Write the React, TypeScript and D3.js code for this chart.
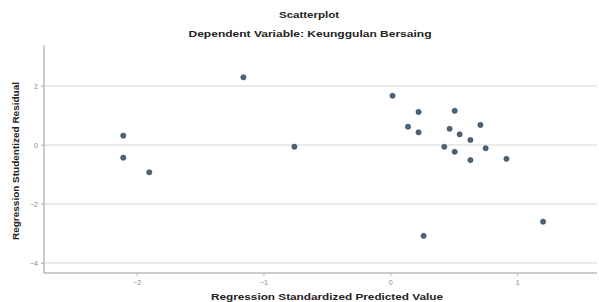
import React, { useEffect, useRef } from 'react';
import * as d3 from 'd3';

// standardized predicted value (x) vs studentized residual (y)
const predicted = [
  -2.105, -2.105, -1.9, -1.158, -0.756,
  0.018, 0.223, 0.508, 0.14, 0.223, 0.468, 0.547, 0.711, 0.632,
  0.426, 0.508, 0.752, 0.632, 0.916, 0.263, 1.205,
];
const residual = [
  0.315, -0.43, -0.925, 2.295, -0.058,
  1.67, 1.12, 1.16, 0.62, 0.43, 0.55, 0.36, 0.68, 0.17,
  -0.06, -0.23, -0.11, -0.51, -0.47, -3.08, -2.6,
];
const xTicks = [-2, -1, 0, 1];
const yTicks = [2, 0, -2, -4];

const title = 'Scatterplot';
const subtitle = 'Dependent Variable: Keunggulan Bersaing';
const xLabel = 'Regression Standardized Predicted Value';
const yLabel = 'Regression Studentized Residual';

const W = 599, H = 302;
const left = 44, right = 597, top = 45, bottom = 273;
const font = '"Liberation Sans", Arial, sans-serif';

export default function App() {
  const ref = useRef<SVGSVGElement>(null);

  useEffect(() => {
    const svg = d3.select(ref.current);
    svg.selectAll('*').remove();

    const x = d3.scaleLinear().domain([-2.73, 1.63]).range([left, right]);
    const y = d3.scaleLinear().domain([-4.34, 3.39]).range([bottom, top]);

    // gridlines
    svg.append('g').selectAll('line').data(yTicks).join('line')
      .attr('x1', left - 3).attr('x2', right)
      .attr('y1', d => y(d)).attr('y2', d => y(d))
      .attr('stroke', '#d6d6d6').attr('stroke-width', 1);

    // y axis
    const yAxis = svg.append('g')
      .attr('transform', `translate(${left},0)`)
      .call(d3.axisLeft(y).tickValues(yTicks).tickSize(3).tickFormat(d3.format('d')));
    yAxis.select('.domain').attr('stroke', '#999').attr('d', `M0,${top}V${bottom}`);
    yAxis.selectAll('line').attr('stroke', '#bbb');
    yAxis.selectAll('text').attr('fill', '#888').style('font-size', '7px').style('font-family', font);

    // x axis
    const xAxis = svg.append('g')
      .attr('transform', `translate(0,${bottom})`)
      .call(d3.axisBottom(x).tickValues(xTicks).tickSize(3).tickFormat(d3.format('d')));
    xAxis.select('.domain').attr('stroke', '#999').attr('d', `M${left},0H${right}`);
    xAxis.selectAll('line').attr('stroke', '#bbb');
    xAxis.selectAll('text').attr('fill', '#888').attr('dy', '0.9em').style('font-size', '7px').style('font-family', font);

    // points
    svg.append('g').selectAll('circle').data(predicted).join('circle')
      .attr('cx', d => x(d))
      .attr('cy', (d, i) => y(residual[i]))
      .attr('r', 2.6)
      .attr('fill', '#4d6478')
      .attr('stroke', '#33475a')
      .attr('stroke-width', 0.6);

    // titles (the source image is a bit stretched sideways, so widths are forced)
    const label = (tx: number, ty: number, size: number, len: number, txt: string) =>
      svg.append('text').attr('x', tx).attr('y', ty).attr('text-anchor', 'middle')
        .attr('textLength', len).attr('lengthAdjust', 'spacingAndGlyphs')
        .style('font-family', font).style('font-size', `${size}px`).style('font-weight', 'bold')
        .attr('fill', '#222').text(txt);

    label(309, 18, 9, 60, title);
    label(310, 37, 9.5, 243, subtitle);
    label(327, 300, 9.5, 232, xLabel);

    svg.append('text').attr('transform', `translate(19,161) rotate(-90)`).attr('text-anchor', 'middle')
      .attr('textLength', 158).attr('lengthAdjust', 'spacingAndGlyphs')
      .style('font-family', font).style('font-size', '9px').style('font-weight', 'bold')
      .attr('fill', '#222').text(yLabel);
  }, []);

  return (
    <svg ref={ref} width={W} height={H}
      style={{ position: 'absolute', left: 0, top: 0, background: '#fff' }} />
  );
}
